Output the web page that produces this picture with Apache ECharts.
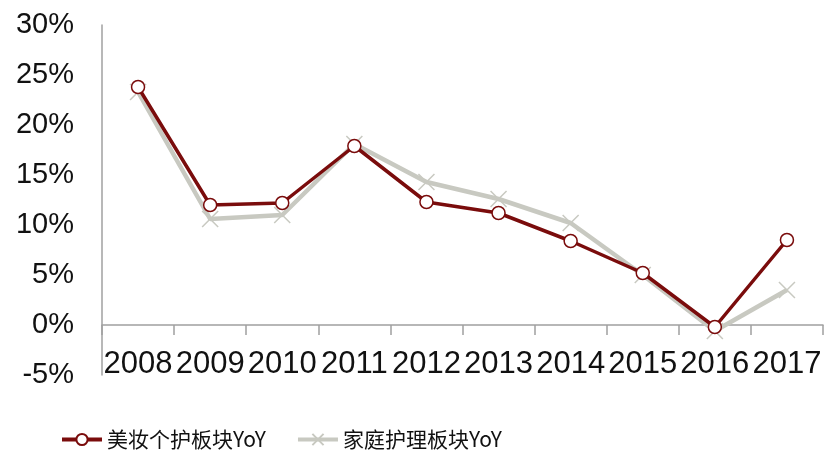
<!DOCTYPE html>
<html><head><meta charset="utf-8">
<script src="https://cdn.jsdelivr.net/npm/echarts@6/dist/echarts.min.js"></script>
<style>html,body{margin:0;padding:0;background:#fff}#c{width:832px;height:463px}</style>
</head><body><div id="c"></div>
<script>
const categories = ['2008','2009','2010','2011','2012','2013','2014','2015','2016','2017'];
const beautyYoY = [23.8, 12.0, 12.2, 17.9, 12.3, 11.2, 8.4, 5.2, -0.2, 8.5];
const homeCareYoY = [23.3, 10.6, 11.0, 18.1, 14.3, 12.6, 10.2, 5.0, -0.6, 3.5];
const seriesNames = ['美妆个护板块YoY', '家庭护理板块YoY'];

const chart = echarts.init(document.getElementById('c'));
const font = '"Liberation Sans", Arial, sans-serif';
chart.setOption({
  animation: false,
  grid: { left: 102, right: 9, top: 25, bottom: 88, containLabel: false },
  legend: {
    bottom: 8, left: 55, itemWidth: 40, itemHeight: 14, itemGap: 30,
    lineStyle: { width: 4 },
    textStyle: { fontSize: 21, color: '#111', fontFamily: '"Noto Sans CJK SC", sans-serif' },
    data: seriesNames
  },
  xAxis: {
    type: 'category', data: categories, boundaryGap: true,
    axisLine: { onZero: true, lineStyle: { color: '#a0a0a0', width: 1.5 } },
    axisTick: { show: true, length: 10, lineStyle: { color: '#a0a0a0', width: 1.5 } },
    axisLabel: { fontSize: 31, color: '#111', fontFamily: font, margin: -26, interval: 0 }
  },
  yAxis: {
    type: 'value', min: -5, max: 30, interval: 5,
    splitLine: { show: false },
    axisLine: { show: true, lineStyle: { color: '#a0a0a0', width: 1.5 } },
    axisTick: { show: false },
    axisLabel: { formatter: '{value}%', fontSize: 29, color: '#111', fontFamily: font, margin: 28 }
  },
  series: [
    {
      name: seriesNames[1], type: 'line', data: homeCareYoY, z: 2,
      symbol: 'path://M0,0L10,10M10,0L0,10', symbolSize: 16,
      lineStyle: { color: '#c8c9c1', width: 4.5 },
      itemStyle: { color: 'rgba(0,0,0,0)', borderColor: '#c8c9c1', borderWidth: 1.5 }
    },
    {
      name: seriesNames[0], type: 'line', data: beautyYoY, z: 3,
      symbol: 'circle', symbolSize: 13,
      lineStyle: { color: '#7a0c0c', width: 3.5 },
      itemStyle: { color: '#fff', borderColor: '#7a0c0c', borderWidth: 1.5 }
    }
  ]
});
</script></body></html>
